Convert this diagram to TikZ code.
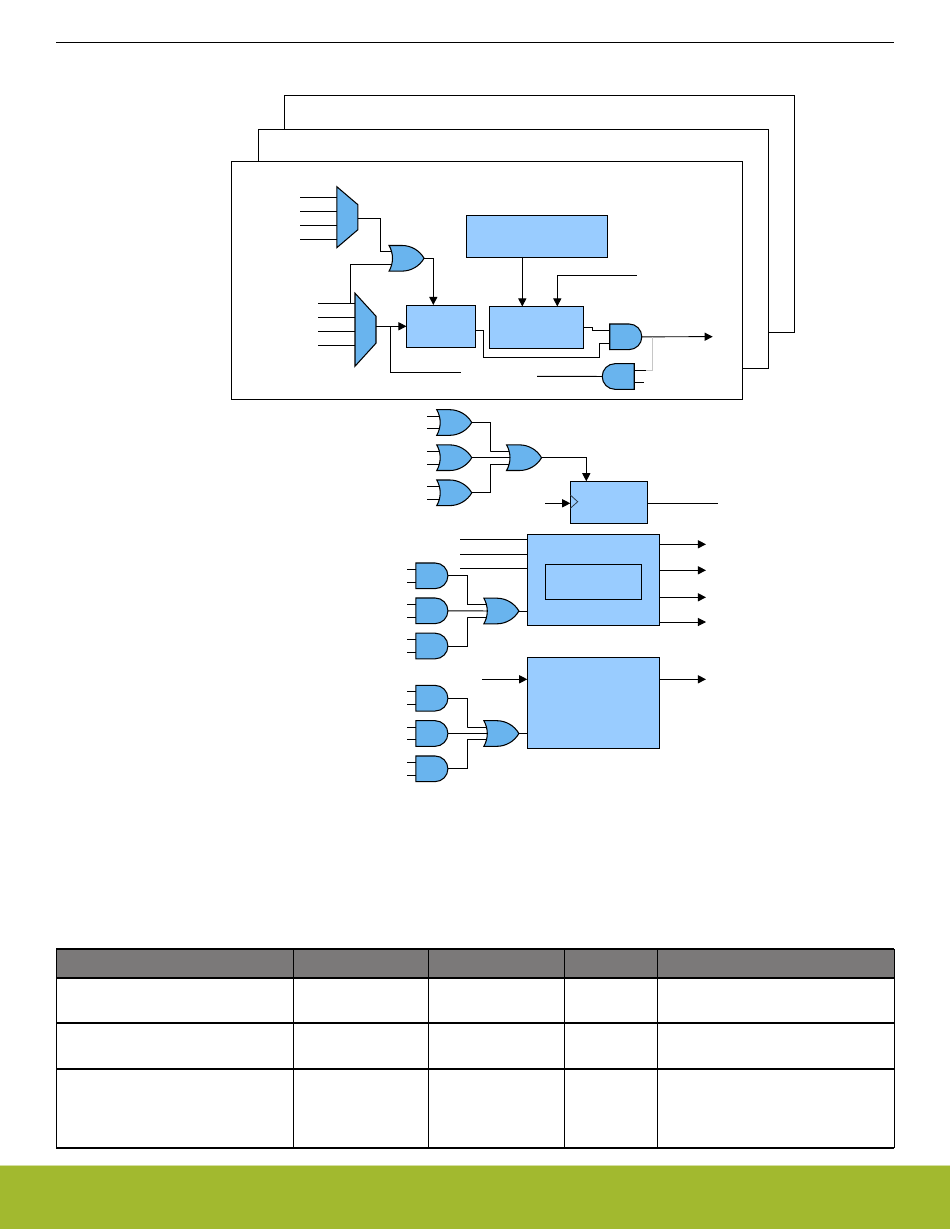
\documentclass[tikz,border=0pt]{standalone}
\usetikzlibrary{arrows.meta, calc, shapes.geometric, shapes.gates.logic.US}

\definecolor{blockblue}{HTML}{99CCFF}
\definecolor{gateblue}{HTML}{69B4EE}
\definecolor{headgray}{HTML}{7B7979}
\definecolor{bandgreen}{HTML}{A2B92F}

\begin{document}
\begin{tikzpicture}[
  x=0.02cm, y=-0.02cm,
  wh/.style 2 args={minimum width=#1*0.02cm, minimum height=#2*0.02cm},
  frame/.style={draw, fill=white, line width=0.55pt, inner sep=0, outer sep=0},
  block/.style={draw, fill=blockblue, line width=0.55pt, inner sep=0, outer sep=0},
  gatebase/.style={draw, fill=gateblue, line width=0.6pt, inner sep=0, outer sep=0, logic gate inputs=nnn, logic gate input sep=0.19cm, scale=0.675, transform shape},
  andgate/.style={and gate US, gatebase},
  orgate/.style={or gate US, gatebase},
  muxgate/.style={trapezium, trapezium stretches=true, shape border rotate=270, draw, fill=gateblue, line width=0.6pt, inner sep=0.5pt, outer sep=0},
  wire/.style={line width=0.55pt},
  arr/.style={wire, -{Triangle[length=4.6pt, width=4.6pt]}},
]
\useasboundingbox (0,0) rectangle (950,1229);

% ---------------------------------------------------------------
% page header and footer band
% ---------------------------------------------------------------
\draw[line width=0.5pt] (56,42) -- (894,42);
\fill[bandgreen] (0,1165) rectangle (950,1229);
\fill[bandgreen!45] (0,1164.5) rectangle (950,1165.5);

% ---------------------------------------------------------------
% stacked channel frames
% ---------------------------------------------------------------
\node[frame, wh={510}{237}] (backframe) at (539,213.5) {};
\node[frame, wh={510}{239}] (midframe) at (513,248.5) {};
\node[frame, wh={511}{238}] (frontframe) at (486.5,280) {};

% ---------------------------------------------------------------
% channel blocks
% ---------------------------------------------------------------
\node[muxgate, wh={61}{21}, trapezium angle=54.5] (muxa) at (347.3,217.2) {};
\node[muxgate, wh={73}{21}, trapezium angle=49.4] (muxb) at (365.5,329.7) {};
\node[orgate] (orsel) at (404,258.3) {};
\node[block, wh={69}{42}] (cnt) at (441,326) {};
\node[block, wh={94}{42}] (cmp) at (536.3,327.5) {};
\node[block, wh={141}{42}] (ctop) at (537,236) {};
\node[andgate] (andout) at (624.7,336.8) {};
\node[andgate, rotate=180] (andfb) at (619.3,376.5) {};

\coordinate (muxaout) at (muxa.east |- 0,218.3);
\coordinate (muxbout) at (muxb.east |- 0,326.3);
\coordinate (trigin) at (460.7,372.3);
\coordinate (ctopin) at (636.7,275.7);
\coordinate (outa) at (712.7,336.7);
\coordinate (fbin) at (537,376.3);
\foreach \y [count=\i] in {197.3,211.3,225.3,239.3} {
  \coordinate (ina\i) at (300,\y);
  \draw[wire] (ina\i) -- (ina\i -| muxa.west);
}
\foreach \y [count=\i] in {303.3,317,331.3,345.3} {
  \coordinate (inb\i) at (318,\y);
  \draw[wire] (inb\i) -- (inb\i -| muxb.west);
}

\draw[wire] (muxaout) -| (380.3,251.3) |- (orsel.input 1);
\draw[wire] (inb1 -| 350.3,0) |- (orsel.input 3);
\draw[arr] (orsel.output) -| (cnt.north -| 433.3,0);
\draw[arr] (muxbout) -- (muxbout -| cnt.west);
\draw[wire] (muxbout -| 390.3,0) |- (trigin);
\draw[arr] (ctop.south -| 522.3,0) -- (cmp.north -| 522.3,0);
\draw[arr] (ctopin) -| (cmp.north -| 557.3,0);
\draw[wire] (cmp.east |- 0,327.3) -| (592.3,330.3) |- (andout.input 1);
\draw[wire] (cnt.east |- 0,330.3) -| (483.3,357.3) -| (599.3,343.3) |- (andout.input 3);
\draw[arr] (andout.output) -- (outa);
\draw[wire] (fbin) -- (andfb.output);
\draw[wire] (andfb.input 3) -- ++(12,0) coordinate (fbstub);
\draw[gray!45, line width=0.55pt] (fbstub) -| (652.3,336.7);
\draw[wire] (andfb.input 1) -- ++(9.7,0);

% ---------------------------------------------------------------
% clock block with its OR tree
% ---------------------------------------------------------------
\node[orgate] (orca) at (451.7,422.5) {};
\node[orgate] (orcb) at (451.7,457.7) {};
\node[orgate] (orcc) at (451.7,492.8) {};
\node[orgate] (orcm) at (521.5,457.7) {};
\node[block, wh={77}{42}] (dff) at (608.8,502.3) {};
\draw[black!70!blockblue, line width=0.45pt] (dff.west |- 0,495) -- (577.7,501.7) -- (dff.west |- 0,508.3);
\foreach \g in {orca,orcb,orcc} {
  \draw[wire] (\g.input 1) -- ++(-12,0);
  \draw[wire] (\g.input 3) -- ++(-12,0);
}
\draw[wire] (orca.output) -| (490.3,451.3) |- (orcm.input 1);
\draw[wire] (orcb.output) -- (orcm.input 2);
\draw[wire] (orcc.output) -| (490.3,464.3) |- (orcm.input 3);
\draw[arr] (orcm.output) -| (dff.north -| 586.3,0);
\coordinate (clkin) at (545,503.3);
\coordinate (dffout) at (717.7,503.3);
\draw[arr] (clkin) -- (clkin -| dff.west);
\draw[wire] (dffout -| dff.east) -- (dffout);

% ---------------------------------------------------------------
% upper control block
% ---------------------------------------------------------------
\node[block, wh={132}{91}] (ctla) at (593.3,579.8) {};
\node[block, wh={96.4}{35}] (ctlin) at (593.5,581.8) {};
\node[andgate] (anda) at (430.8,575.8) {};
\node[andgate] (andb) at (430.8,610.8) {};
\node[andgate] (andc) at (430.8,646) {};
\node[orgate] (ora) at (498.8,611) {};
\foreach \y [count=\i] in {539.3,554.3,568.3} {
  \coordinate (ctlain\i) at (460,\y);
  \draw[wire] (ctlain\i) -- (ctlain\i -| ctla.west);
}
\foreach \y [count=\i] in {544.3,570.3,597.3,622} {
  \coordinate (ctlaout\i) at (706,\y);
  \draw[arr] (ctlaout\i -| ctla.east) -- (ctlaout\i);
}
\draw[wire] (anda.output) -| (467.3,604.3) |- (ora.input 1);
\draw[wire] (andb.output) -- (ora.input 2);
\draw[wire] (andc.output) -| (467.3,617.3) |- (ora.input 3);
\draw[wire] (ora.output) -- (ora.output -| ctla.west);

% ---------------------------------------------------------------
% lower control block
% ---------------------------------------------------------------
\node[block, wh={132}{91}] (ctlb) at (593.3,702.8) {};
\node[andgate] (andd) at (430.8,698.2) {};
\node[andgate] (ande) at (430.8,733.5) {};
\node[andgate] (andf) at (430.8,768.8) {};
\node[orgate] (orb) at (498.8,733.5) {};
\foreach \g in {anda,andb,andc,andd,ande,andf} {
  \draw[wire] (\g.input 1) -- ++(-9.3,0);
  \draw[wire] (\g.input 3) -- ++(-9.3,0);
}
\coordinate (ctlbin) at (482,679.3);
\coordinate (ctlbout) at (706,679.3);
\draw[arr] (ctlbin) -- (ctlbin -| ctlb.west);
\draw[arr] (ctlbout -| ctlb.east) -- (ctlbout);
\draw[wire] (andd.output) -| (467.3,727.3) |- (orb.input 1);
\draw[wire] (ande.output) -- (orb.input 2);
\draw[wire] (andf.output) -| (467.3,740.3) |- (orb.input 3);
\draw[wire] (orb.output) -- (orb.output -| ctlb.west);

% ---------------------------------------------------------------
% table
% ---------------------------------------------------------------
\fill[headgray] (56,949) rectangle (894,978);
\foreach \y in {949,978,1023,1069,1148} {
  \draw[line width=0.65pt] (56,\y) -- (894,\y);
}
\foreach \x in {56,293.5,428.5,564.5,657.5,894} {
  \draw[line width=0.55pt] (\x,949) -- (\x,1148);
}

\end{tikzpicture}
\end{document}
